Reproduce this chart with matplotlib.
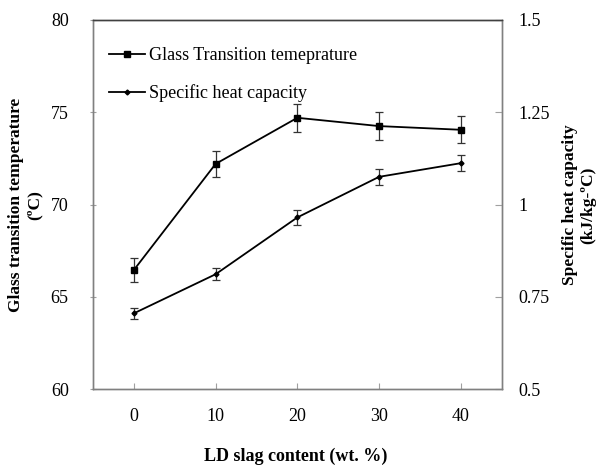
import numpy as np
import matplotlib
matplotlib.use("Agg")
import matplotlib.pyplot as plt
from matplotlib.lines import Line2D

plt.rcParams['font.family'] = ['Liberation Serif', 'DejaVu Serif']

# data
slag = [0, 10, 20, 30, 40]
tg = [66.45, 72.2, 74.7, 74.25, 74.05]
tg_err = [0.65, 0.72, 0.75, 0.74, 0.74]
cp = [0.705, 0.811, 0.965, 1.075, 1.112]
cp_err = [0.014, 0.016, 0.02, 0.021, 0.022]

left_ticks = [60, 65, 70, 75, 80]
right_ticks = [0.5, 0.75, 1.0, 1.25, 1.5]
right_labels = ['0.5', '0.75', '1', '1.25', '1.5']

fig = plt.figure(figsize=(5.98, 4.66), dpi=100)
ax = fig.add_axes([93 / 598, 1 - 389 / 466, (501.7 - 93) / 598, (389 - 20) / 466])
ax2 = ax.twinx()

# glass transition temperature, left axis
ax.errorbar(slag, tg, yerr=tg_err, color='black', lw=1.3, marker='s', ms=5,
            ecolor='#333333', elinewidth=0.9, capsize=3, capthick=0.9)
# specific heat capacity, right axis
ax2.errorbar(slag, cp, yerr=cp_err, color='black', lw=1.3, marker='D', ms=2.5,
             ecolor='#333333', elinewidth=0.9, capsize=3, capthick=0.9)

ax.set_xlim(-5, 45)
ax.set_ylim(60, 80)
ax2.set_ylim(0.5, 1.5)
ax.set_xticks(slag)
ax.set_yticks(left_ticks)
ax2.set_yticks(right_ticks)
ax2.set_yticklabels(right_labels)

for a in (ax, ax2):
    for s in a.spines.values():
        s.set_color('#808080')
        s.set_linewidth(1.0)
    a.spines['top'].set_color('#404040')
ax.tick_params(axis='y', direction='inout', length=5, color='#a0a0a0', labelsize=13, pad=15)
ax.tick_params(axis='x', direction='in', length=4, color='#a0a0a0', labelsize=13, pad=14)
ax2.tick_params(axis='y', direction='in', length=5, color='#a0a0a0', labelsize=13, pad=12)

# axis labels placed by hand like the original
fig.text(0.042, 0.56, 'Glass transition temperature\n(ºC)', rotation=90, ha='center',
         va='center', fontsize=12.5, fontweight='bold', multialignment='center')
fig.text(0.968, 0.56, 'Specific heat capacity\n(kJ/kg-ºC)', rotation=90, ha='center',
         va='center', fontsize=12.5, fontweight='bold', multialignment='center')
fig.text(0.495, 0.02, 'LD slag content (wt. %)', ha='center', va='center',
         fontsize=13, fontweight='bold')

handles = [Line2D([], [], color='black', lw=1.3, marker='s', ms=4),
           Line2D([], [], color='black', lw=1.3, marker='D', ms=2.5)]
ax2.legend(handles, ['Glass Transition temeprature', 'Specific heat capacity'],
           loc='upper left', frameon=False, fontsize=13, labelspacing=1.1,
           handlelength=2.0, handletextpad=0.2, bbox_to_anchor=(0.0, 0.97))

fig.savefig('out.png', dpi=100)
